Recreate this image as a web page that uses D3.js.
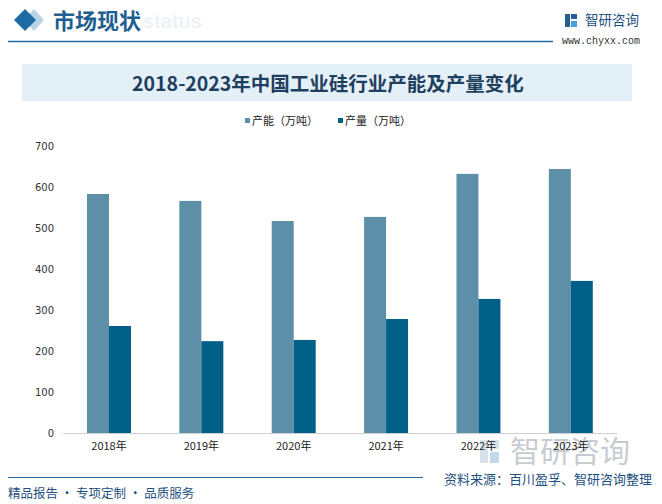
<!DOCTYPE html>
<html><head><meta charset="utf-8">
<script src="https://cdn.jsdelivr.net/npm/d3@7"></script>
<style>body{margin:0;background:#fff}svg{display:block}</style>
</head><body>
<script>
const categories = ["2018年","2019年","2020年","2021年","2022年","2023年"];
const capacity = [583, 566, 517, 527, 632, 644];
const production = [261, 224, 227, 278, 327, 371];
const seriesNames = ["产能（万吨）","产量（万吨）"];
const yTicks = [0,100,200,300,400,500,600,700];
const colors = ["#5e8fa8","#005f86"];

const W = 662, H = 504;
const svg = d3.select("body").append("svg").attr("width", W).attr("height", H);
const cjk = "'Noto Sans CJK SC','Noto Sans',sans-serif";

// Header
svg.append("rect").attr("x",0).attr("y",0).attr("width",W).attr("height",H).attr("fill","#fff");
svg.append("path").attr("d","M34,9 L44,20 L34,31 L24,20 Z").attr("fill","#b9d3e6");
svg.append("path").attr("d","M25,9 L36,20 L25,31 L14,20 Z").attr("fill","#1d6aa5");
svg.append("text").attr("x",143).attr("y",28).text("status")
  .attr("font-family","Arial, sans-serif").attr("font-size",20).attr("font-weight","bold").attr("fill","#eef2f6");
svg.append("text").attr("x",53).attr("y",29).text("市场现状")
  .attr("font-family",cjk).attr("font-size",22).attr("font-weight","bold").attr("fill","#1f5f8f");
svg.append("line").attr("x1",8).attr("x2",553).attr("y1",41.5).attr("y2",41.5).attr("stroke","#1f6aa0").attr("stroke-width",1.5);
// logo
const lg = svg.append("g");
lg.append("rect").attr("x",565).attr("y",14).attr("width",5).attr("height",13).attr("fill","#2a5d8f");
lg.append("rect").attr("x",571).attr("y",14).attr("width",6).attr("height",5).attr("fill","#2a5d8f");
lg.append("rect").attr("x",571).attr("y",21).attr("width",6).attr("height",6).attr("fill","#4aa0d8");
svg.append("text").attr("x",585).attr("y",25).text("智研咨询").attr("font-family",cjk).attr("font-size",13.5).attr("fill","#1f4f80");
svg.append("text").attr("x",562).attr("y",44).text("www.chyxx.com").attr("font-family","'Liberation Mono','DejaVu Sans Mono',monospace").attr("font-size",10).attr("fill","#333");

// Title box
svg.append("rect").attr("x",22).attr("y",64).attr("width",610).attr("height",37).attr("fill","#e4f0f8");
svg.append("text").attr("x",328).attr("y",91).attr("text-anchor","middle").text("2018-2023年中国工业硅行业产能及产量变化")
  .attr("font-family",cjk).attr("font-size",19.5).attr("font-weight","bold").attr("fill","#1f3f5e");

// Legend
const legX = [245, 338];
seriesNames.forEach((n,i)=>{
  svg.append("rect").attr("x",legX[i]).attr("y",118).attr("width",5).attr("height",5).attr("fill",colors[i]);
  svg.append("text").attr("x",legX[i]+7).attr("y",125).text(n).attr("font-family",cjk).attr("font-size",11).attr("fill","#222");
});

// Scales
const x = d3.scaleBand().domain(categories).range([62.8, 617]).paddingInner(0.524).paddingOuter(0.262);
const x1 = d3.scaleBand().domain([0,1]).range([0, x.bandwidth()]);
const y = d3.scaleLinear().domain([0,700]).range([433,146]);

// Y axis
const ya = svg.append("g").attr("transform","translate(54,0)")
  .call(d3.axisLeft(y).tickValues(yTicks).tickSize(0).tickPadding(0));
ya.select(".domain").remove();
ya.selectAll("text").attr("font-family","'DejaVu Sans',sans-serif").attr("font-size",10).attr("fill","#333");

// Bars
const g = svg.append("g");
categories.forEach((c,i)=>{
  [capacity[i], production[i]].forEach((v,j)=>{
    g.append("rect").attr("x",x(c)+x1(j)).attr("width",x1.bandwidth())
      .attr("y",y(v)).attr("height",y(0)-y(v)).attr("fill",colors[j]);
  });
});

// watermark logo bottom right
svg.append("rect").attr("x",480).attr("y",440).attr("width",8).attr("height",23).attr("fill","#c9d6e2").attr("opacity",0.7);
svg.append("rect").attr("x",490).attr("y",440).attr("width",9).attr("height",9).attr("fill","#c9d6e2").attr("opacity",0.7);
svg.append("rect").attr("x",490).attr("y",452).attr("width",9).attr("height",11).attr("fill","#a8c8e6").attr("opacity",0.7);
svg.append("text").attr("x",510).attr("y",462).text("智研咨询").attr("font-family",cjk).attr("font-size",30).attr("fill","#9aa3ab").attr("opacity",0.55);

// X axis
const xa = svg.append("g").attr("transform","translate(0,433)")
  .call(d3.axisBottom(x).tickSize(0).tickPadding(9));
xa.select(".domain").attr("stroke","#d0d0d0");
xa.selectAll("text").attr("font-family",cjk).attr("font-size",11).attr("fill","#222");

// Footer
svg.append("line").attr("x1",8).attr("x2",423).attr("y1",477.5).attr("y2",477.5).attr("stroke","#1f6aa0").attr("stroke-width",1.2);
svg.append("text").attr("x",652).attr("y",484).attr("text-anchor","end").text("资料来源：百川盈孚、智研咨询整理")
  .attr("font-family",cjk).attr("font-size",13).attr("fill","#1f4f80");
svg.append("text").attr("x",8).attr("y",498).text("精品报告 · 专项定制 · 品质服务")
  .attr("font-family",cjk).attr("font-size",12.5).attr("fill","#1f4f80");
</script>
</body></html>
